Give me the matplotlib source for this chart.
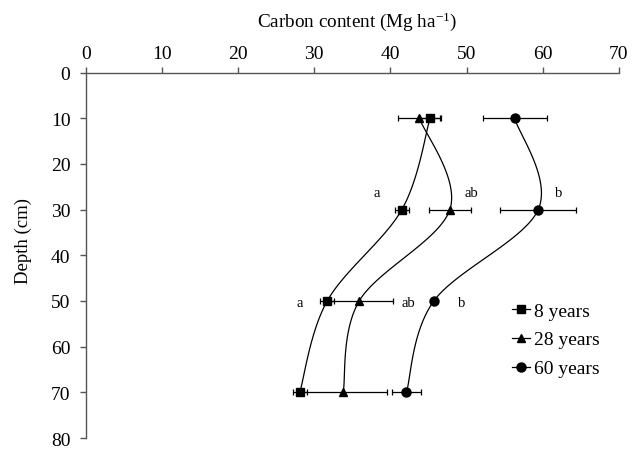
import numpy as np
import matplotlib
matplotlib.use('Agg')
import matplotlib.pyplot as plt
from matplotlib.lines import Line2D

plt.rcParams['font.family'] = ['Liberation Serif', 'DejaVu Serif']
plt.rcParams['mathtext.fontset'] = 'custom'
plt.rcParams['mathtext.rm'] = 'Liberation Serif'
plt.rcParams['mathtext.it'] = 'Liberation Serif:italic'

# ---- data ----
depth = [10, 30, 50, 70]
c8 = [45.2, 41.5, 31.7, 28.1]
e8 = [1.3, 0.95, 0.9, 0.9]
c28 = [43.8, 47.8, 35.9, 33.8]
e28 = [2.8, 2.8, 4.5, 5.8]
c60 = [56.3, 59.4, 45.7, 42.1]
e60 = [4.2, 5.0, 0.4, 1.9]
series_labels = ['8 years', '28 years', '60 years']
letters30 = ['a', 'ab', 'b']
letters50 = ['a', 'ab', 'b']
x_ticks = [0, 10, 20, 30, 40, 50, 60, 70]
y_ticks = [0, 10, 20, 30, 40, 50, 60, 70, 80]

W, H = 643, 452
fig = plt.figure(figsize=(W / 100, H / 100), dpi=100)
L, R, T, B = 85.7, 619.0, 73.5, 439.0
ax = fig.add_axes([L / W, 1 - B / H, (R - L) / W, (B - T) / H])
ax.set_xlim(0, 70)
ax.set_ylim(80, 0)

sx = (R - L) / 70.0
sy = (B - T) / 80.0


def smooth(x, y, n=40):
    P = np.column_stack([np.asarray(x) * sx, np.asarray(y) * sy])
    Pe = np.vstack([P[0], P, P[-1]])
    segs = []
    t = np.linspace(0, 1, n)[:, None]
    for i in range(len(P) - 1):
        p0, p1, p2, p3 = Pe[i], Pe[i + 1], Pe[i + 2], Pe[i + 3]
        c1 = p1 + (p2 - p0) / 6.0
        c2 = p2 - (p3 - p1) / 6.0
        Bz = (1 - t) ** 3 * p1 + 3 * (1 - t) ** 2 * t * c1 + 3 * (1 - t) * t ** 2 * c2 + t ** 3 * p2
        segs.append(Bz if i == 0 else Bz[1:])
    Bz = np.vstack(segs)
    return Bz[:, 0] / sx, Bz[:, 1] / sy


series = [(c8, e8, 's'), (c28, e28, '^'), (c60, e60, 'o')]
msizes = {'s': 6, '^': 6, 'o': 6.5}
for vals, errs, mk in series:
    xs, ys = smooth(vals, depth)
    ax.plot(xs, ys, color='black', lw=0.9, zorder=2)
    ax.errorbar(vals, depth, xerr=errs, fmt=mk, color='black', ms=msizes[mk],
                ecolor='black', elinewidth=0.9, capsize=2.2, capthick=0.9, zorder=3)

# significance letters
pos30 = [38.2, 50.6, 62.1]
pos50 = [28.1, 42.4, 49.3]
for lab, xp in zip(letters30, pos30):
    ax.text(xp, 26.2, lab, ha='center', va='center', fontsize=10.5)
for lab, xp in zip(letters50, pos50):
    ax.text(xp, 50.3, lab, ha='center', va='center', fontsize=10.5)

# axes styling
for s in ['right', 'bottom']:
    ax.spines[s].set_visible(False)
for s in ['left', 'top']:
    ax.spines[s].set_color('#555555')
    ax.spines[s].set_linewidth(1.0)
ax.xaxis.tick_top()
ax.set_xticks(x_ticks)
ax.set_yticks(y_ticks)
ax.tick_params(axis='both', direction='out', length=4, width=1.0, color='#555555',
               labelsize=14, pad=7)
ax.tick_params(axis='x', pad=3.5)

fig.text(357 / W, 1 - 27 / H, 'Carbon content (Mg ha$^{\\mathregular{-1}}$)',
         ha='center', va='baseline', fontsize=13.8)
fig.text(23 / W, 1 - 241 / H, 'Depth (cm)', rotation=90, ha='center', va='center',
         fontsize=13.5)

handles = [Line2D([0], [0], color='black', lw=0.9, marker=mk, ms=msizes[mk])
           for _, _, mk in series]
fig.legend(handles, series_labels, loc='upper left', bbox_to_anchor=(512 / W, 1 - 303 / H),
           frameon=False, fontsize=14, handlelength=0.9, handletextpad=0.25,
           labelspacing=0.58, borderpad=0, borderaxespad=0)

fig.savefig('out.png', dpi=100)
